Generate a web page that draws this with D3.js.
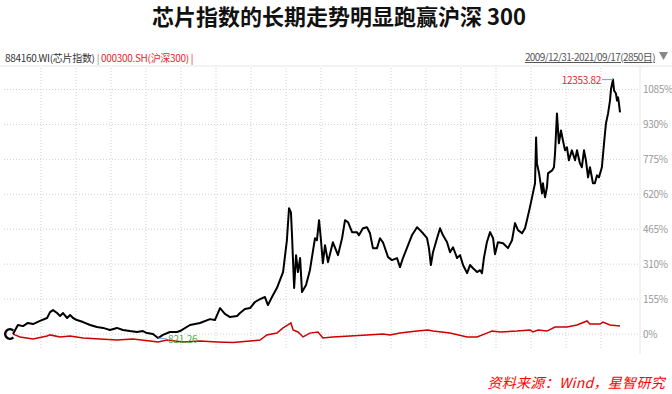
<html lang="zh">
  <head>
    <meta charset="UTF-8" />
    <title>芯片指数 vs 沪深300</title>
    <script src="https://d3js.org/d3.v7.min.js"></script>
  </head>
  <body>
    <style>
      body {
        background-color: #ffffff;
        margin: 0;
        padding: 0;
        font-family: "Noto Sans CJK SC", "Noto Sans", sans-serif;
      }
      svg {
        display: block;
      }
    </style>
    <script>
      const w = 672;
      const h = 394;

      // 884160.WI (芯片指数), % change from 2009/12/31, by trading day
      const chipDays = [0, 23, 47, 70, 94, 127, 160, 174, 188, 207, 221, 235, 254, 268, 282, 300, 329, 362, 394, 423, 455, 488, 516, 549, 582, 610, 629, 657, 681, 704, 737, 770, 784, 831, 878, 925, 948, 972, 995, 1019, 1052, 1066, 1089, 1113, 1136, 1160, 1183, 1197, 1216, 1239, 1268, 1286, 1296, 1305, 1310, 1320, 1329, 1338, 1348, 1357, 1376, 1394, 1409, 1418, 1427, 1437, 1446, 1455, 1465, 1479, 1502, 1526, 1545, 1559, 1573, 1592, 1615, 1624, 1643, 1662, 1676, 1690, 1709, 1723, 1737, 1761, 1779, 1803, 1817, 1831, 1855, 1873, 1897, 1911, 1925, 1944, 1953, 1962, 1972, 1991, 2005, 2019, 2038, 2052, 2066, 2085, 2099, 2113, 2132, 2146, 2160, 2179, 2193, 2202, 2211, 2225, 2240, 2254, 2263, 2277, 2301, 2324, 2343, 2357, 2371, 2390, 2404, 2413, 2427, 2441, 2451, 2456, 2460, 2470, 2484, 2488, 2498, 2507, 2512, 2531, 2540, 2545, 2554, 2563, 2573, 2582, 2592, 2601, 2610, 2624, 2639, 2648, 2662, 2671, 2681, 2690, 2700, 2709, 2723, 2732, 2742, 2751, 2765, 2775, 2784, 2794, 2803, 2808, 2817, 2822, 2831, 2836, 2841, 2845, 2850];
      const chipPct = [0, 40, 35, 49, 44, 58, 71, 97, 106, 93, 80, 93, 71, 84, 71, 62, 53, 40, 31, 27, 18, 27, 18, 13, 9, 13, 4, 0, -18, -4, 9, 9, 13, 40, 49, 66, 62, 115, 89, 75, 80, 93, 111, 115, 142, 155, 164, 128, 164, 204, 275, 416, 558, 540, 438, 204, 350, 275, 337, 186, 217, 283, 372, 425, 416, 505, 416, 314, 394, 319, 407, 350, 425, 505, 496, 452, 452, 438, 469, 474, 447, 381, 381, 425, 407, 341, 328, 337, 297, 337, 394, 438, 474, 461, 447, 425, 381, 306, 363, 425, 469, 438, 407, 363, 385, 337, 350, 306, 270, 306, 292, 275, 283, 270, 337, 407, 452, 425, 354, 407, 403, 381, 416, 492, 461, 447, 469, 505, 562, 624, 669, 872, 757, 713, 624, 669, 607, 651, 713, 726, 740, 802, 979, 846, 903, 859, 815, 828, 771, 815, 771, 815, 757, 740, 815, 771, 695, 740, 669, 669, 704, 695, 740, 846, 934, 979, 1036, 1089, 1129, 1081, 1067, 1036, 1050, 1023, 983];

      // 000300.SH (沪深300), % change from 2009/12/31, by trading day
      const hsDays = [0, 9, 33, 94, 160, 174, 221, 268, 329, 408, 488, 563, 643, 681, 723, 798, 878, 958, 1033, 1113, 1160, 1192, 1239, 1268, 1291, 1305, 1315, 1338, 1362, 1394, 1432, 1455, 1502, 1582, 1662, 1737, 1770, 1817, 1897, 1948, 1972, 2052, 2132, 2179, 2225, 2249, 2287, 2366, 2427, 2441, 2465, 2507, 2545, 2601, 2648, 2695, 2709, 2756, 2770, 2803, 2850];
      const hsPct = [0, -4, -13, -22, -9, -4, -13, -9, -18, -22, -27, -22, -31, -35, -27, -35, -31, -35, -38, -31, -27, -4, 4, 27, 40, 49, 18, 9, -13, 4, 9, -18, -13, -9, -4, 0, -4, 4, 13, 18, 13, 4, -13, -13, 4, 13, 9, 13, 18, 9, 18, 13, 31, 31, 40, 58, 44, 44, 53, 40, 35];

      const yTicks = [0, 155, 310, 465, 620, 775, 930, 1085];
      const totalDays = 2850;
      const maxLabel = "12353.82";
      const minLabel = "821.26";

      const plotTop = 66;
      const plotBottom = 348;
      const plotLeft = 4;
      const plotRight = 640;

      const svg = d3
        .select("body")
        .append("svg")
        .attr("width", w)
        .attr("height", h);

      // title
      svg
        .append("text")
        .attr("x", 339)
        .attr("y", 25)
        .attr("text-anchor", "middle")
        .style("font-size", "22px")
        .style("font-weight", "bold")
        .style("fill", "#111")
        .text("芯片指数的长期走势明显跑赢沪深 300");

      // legend line
      const legend = svg
        .append("text")
        .attr("x", 5)
        .attr("y", 62)
        .style("font-size", "10px")
        .style("letter-spacing", "-0.3px");
      legend.append("tspan").style("fill", "#333").text("884160.WI(芯片指数) ");
      legend.append("tspan").style("fill", "#888").text("| ");
      legend.append("tspan").style("fill", "#e0282e").text("000300.SH(沪深300) |");

      svg
        .append("text")
        .attr("x", 655)
        .attr("y", 61)
        .attr("text-anchor", "end")
        .style("font-size", "10px")
        .style("letter-spacing", "-0.6px")
        .style("fill", "#555")
        .style("text-decoration", "underline")
        .text("2009/12/31-2021/09/17(2850日)");
      svg
        .append("path")
        .attr("d", "M659,52L668,52L663.5,60Z")
        .attr("fill", "#888");

      // frame
      svg
        .append("line")
        .attr("x1", 0)
        .attr("x2", w)
        .attr("y1", plotTop)
        .attr("y2", plotTop)
        .attr("stroke", "#e6e6e6");
      svg
        .append("line")
        .attr("x1", plotRight)
        .attr("x2", plotRight)
        .attr("y1", plotTop)
        .attr("y2", plotBottom + 6)
        .attr("stroke", "#e6e6e6");

      const xScale = d3.scaleLinear().domain([0, totalDays]).range([13, 620]);
      const yScale = d3.scaleLinear().domain([0, 1085]).range([334, 89.5]);

      // grid
      const grid = svg.append("g").attr("class", "grid");
      grid
        .selectAll("line.h")
        .data(yTicks)
        .enter()
        .append("line")
        .attr("class", "h")
        .attr("x1", plotLeft)
        .attr("x2", plotRight)
        .attr("y1", (d) => yScale(d))
        .attr("y2", (d) => yScale(d))
        .attr("stroke", "#d0d0d0")
        .attr("stroke-dasharray", "1,2");
      grid
        .selectAll("line.v")
        .data(d3.range(17).map((i) => 41 + i * 35))
        .enter()
        .append("line")
        .attr("class", "v")
        .attr("x1", (d) => d)
        .attr("x2", (d) => d)
        .attr("y1", plotTop + 2)
        .attr("y2", plotBottom)
        .attr("stroke", "#d0d0d0")
        .attr("stroke-dasharray", "1,2");

      // y axis on the right
      const yAxis = d3
        .axisRight(yScale)
        .tickValues(yTicks)
        .tickSize(0)
        .tickPadding(3)
        .tickFormat((d) => d + "%");
      const yg = svg
        .append("g")
        .attr("transform", `translate(${plotRight},0)`)
        .call(yAxis);
      yg.select(".domain").remove();
      yg.selectAll("text")
        .style("font-size", "10px")
        .style("letter-spacing", "-0.3px")
        .style("font-family", "'Noto Sans CJK SC', sans-serif")
        .style("fill", "#999");

      const line = d3
        .line()
        .x((d) => xScale(d[0]))
        .y((d) => yScale(d[1]));

      svg
        .append("path")
        .datum(hsDays.map((d, i) => [d, hsPct[i]]))
        .attr("d", line)
        .attr("fill", "none")
        .attr("stroke", "#cc0000")
        .attr("stroke-width", 1.5);

      svg
        .append("path")
        .datum(chipDays.map((d, i) => [d, chipPct[i]]))
        .attr("d", line)
        .attr("fill", "none")
        .attr("stroke", "#000")
        .attr("stroke-width", 2)
        .attr("stroke-linejoin", "round");

      // start marker
      const arc = d3
        .arc()
        .innerRadius(3.5)
        .outerRadius(6)
        .startAngle(Math.PI / 2 + 0.8)
        .endAngle(Math.PI * 2.5 - 0.8);
      svg
        .append("path")
        .attr("transform", `translate(${xScale(0) - 3},${yScale(0)})`)
        .attr("d", arc)
        .attr("fill", "#000");

      // max / min labels
      const iMax = chipPct.indexOf(d3.max(chipPct));
      const iMin = chipPct.indexOf(d3.min(chipPct));
      const mx = xScale(chipDays[iMax]);
      const my = yScale(chipPct[iMax]);
      svg
        .append("line")
        .attr("x1", mx - 11)
        .attr("x2", mx)
        .attr("y1", my)
        .attr("y2", my)
        .attr("stroke", "#4fb3e0");
      svg
        .append("text")
        .attr("x", mx - 12)
        .attr("y", my + 4)
        .attr("text-anchor", "end")
        .style("font-size", "10px")
        .style("letter-spacing", "-0.3px")
        .style("fill", "#e0282e")
        .text(maxLabel);

      const nx = xScale(chipDays[iMin]);
      const ny = yScale(chipPct[iMin]);
      svg
        .append("line")
        .attr("x1", nx)
        .attr("x2", nx + 9)
        .attr("y1", ny)
        .attr("y2", ny + 1)
        .attr("stroke", "#4fb3e0");
      svg
        .append("text")
        .attr("x", nx + 10)
        .attr("y", ny + 5)
        .style("font-size", "10px")
        .style("letter-spacing", "-0.2px")
        .style("fill", "#3fae49")
        .text(minLabel);

      // source
      svg
        .append("text")
        .attr("x", 665)
        .attr("y", 388)
        .attr("text-anchor", "end")
        .style("font-size", "14px")
        .style("letter-spacing", "0.3px")
        .style("font-style", "italic")
        .style("fill", "#ff0000")
        .text("资料来源：Wind，星智研究");
    </script>
  </body>
</html>
